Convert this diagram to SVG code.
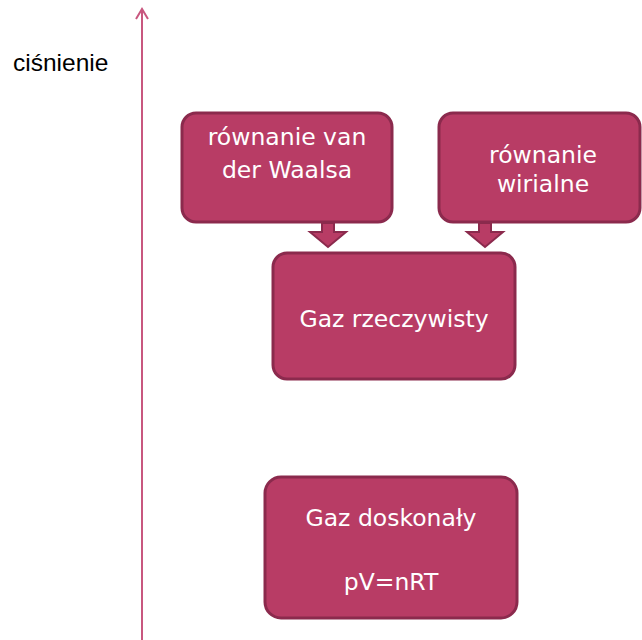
<svg xmlns="http://www.w3.org/2000/svg" width="642" height="640" viewBox="0 0 642 640">
<style>
.box{fill:#b83c65;stroke:#8b2a4d;stroke-width:3}
.t{fill:#ffffff;font-family:"DejaVu Sans","Noto Sans",sans-serif;font-size:23.5px;text-anchor:middle}
.lbl{fill:#000000;font-family:"Liberation Sans",Arial,sans-serif;font-size:24.5px}
.arr{fill:#b83c65;stroke:#8b2a4d;stroke-width:2;stroke-linejoin:miter}
.axis{stroke:#c8577f;stroke-width:2;fill:none}
</style>
<rect width="642" height="640" fill="#ffffff"/>
<g id="axis">
<line class="axis" x1="142" y1="9" x2="142" y2="640"/>
<polyline class="axis" points="136,19 142,9 148,19"/>
<text class="lbl" x="13" y="71">ciśnienie</text>
</g>
<g id="connectors">
<polygon class="arr" points="322,223 334,223 334,232 346,232 328,247 310,232 322,232"/>
<polygon class="arr" points="479,223 491,223 491,232 503,232 485,247 467,232 479,232"/>
</g>
<g id="n1">
<rect class="box" x="182" y="113" width="210" height="109" rx="14"/>
<text class="t" x="287" y="145">równanie van</text>
<text class="t" x="287" y="178">der Waalsa</text>
</g>
<g id="n2">
<rect class="box" x="439" y="113" width="201" height="109" rx="14"/>
<text class="t" x="543" y="163">równanie</text>
<text class="t" x="543" y="192">wirialne</text>
</g>
<g id="n3">
<rect class="box" x="273" y="253" width="242" height="126" rx="14"/>
<text class="t" x="394" y="327">Gaz rzeczywisty</text>
</g>
<g id="n4">
<rect class="box" x="265" y="477" width="252" height="141" rx="16"/>
<text class="t" x="391" y="526">Gaz doskonały</text>
<text class="t" x="391" y="590">pV=nRT</text>
</g>
</svg>
